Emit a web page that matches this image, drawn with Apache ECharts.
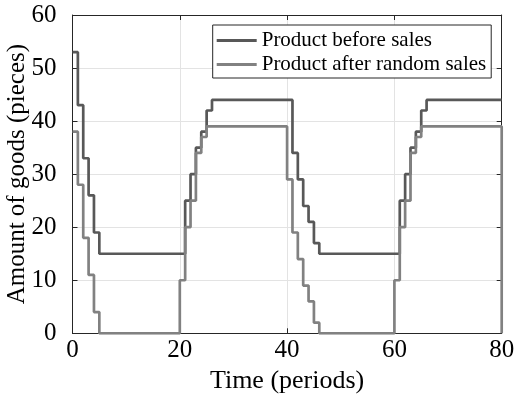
<!DOCTYPE html>
<html>
<head>
<meta charset="utf-8">
<script src="https://cdn.jsdelivr.net/npm/echarts@6/dist/echarts.min.js"></script>
<style>html,body{margin:0;padding:0;background:#fff}#c{width:520px;height:401px}</style>
</head>
<body>
<div id="c"></div>
<script>
// Change points of the stair series: value holds from time[i] until time[i+1]
const beforeTimes  = [0, 1, 2, 3, 4, 5, 21, 22, 23, 24, 25, 26, 41, 42, 43, 44, 45, 46, 61, 62, 63, 64, 65, 66, 80];
const beforeValues = [53, 43, 33, 26, 19, 15, 25, 30, 35, 38, 42, 44, 34, 29, 24, 21, 17, 15, 25, 30, 35, 38, 42, 44, 44];
const afterTimes   = [0, 1, 2, 3, 4, 5, 20, 21, 22, 23, 24, 25, 40, 41, 42, 43, 44, 45, 46, 60, 61, 62, 63, 64, 65, 80, 80];
const afterValues  = [38, 28, 18, 11, 4, 0, 10, 20, 25, 34, 37, 39, 29, 19, 14, 9, 6, 2, 0, 10, 20, 25, 34, 37, 39, 39, 0];
const xTicks = [0, 20, 40, 60, 80];
const yTicks = [0, 10, 20, 30, 40, 50, 60];
const seriesNames = ['Product before sales', 'Product after random sales'];

const FONT = 'Liberation Serif';
const axisCol = '#262626';
const pair = (t, v) => t.map((x, i) => [x, v[i]]);

const chart = echarts.init(document.getElementById('c'), null, {renderer: 'canvas'});
const baseAxis = {
  axisLine: {show: true, onZero: false, lineStyle: {color: axisCol, width: 1}},
  axisTick: {show: true, inside: true, length: 5, lineStyle: {color: axisCol}},
  splitLine: {show: false}
};
chart.setOption({
  animation: false,
  backgroundColor: '#fff',
  grid: {left: 72.5, right: 18.3, top: 15, bottom: 67.7, containLabel: false, outerBoundsMode: 'none'},
  legend: {
    orient: 'vertical',
    left: 212.7, top: 25,
    padding: [5, 5, 3, 4],
    itemGap: 3,
    itemWidth: 40, itemHeight: 3,
    itemTextGap: 3,
    borderColor: axisCol, borderWidth: 1,
    backgroundColor: '#fff',
    textStyle: {fontFamily: FONT, fontSize: 21, color: '#000'},
    data: [
      {name: seriesNames[0], icon: 'rect'},
      {name: seriesNames[1], icon: 'rect'}
    ]
  },
  xAxis: [
    Object.assign({}, baseAxis, {
      type: 'value', min: xTicks[0], max: xTicks[xTicks.length - 1], interval: 20,
      position: 'bottom',
      name: 'Time (periods)', nameLocation: 'middle', nameGap: 35, nameMoveOverlap: false,
      nameTextStyle: {fontFamily: FONT, fontSize: 26, color: '#000'},
      axisLabel: {fontFamily: FONT, fontSize: 25, color: '#000', margin: 5},
      splitLine: {show: true, lineStyle: {color: '#e3e3e3', width: 1}}
    }),
    Object.assign({}, baseAxis, {
      type: 'value', min: xTicks[0], max: xTicks[xTicks.length - 1], interval: 20,
      position: 'top', axisLabel: {show: false}
    })
  ],
  yAxis: [
    Object.assign({}, baseAxis, {
      type: 'value', min: yTicks[0], max: yTicks[yTicks.length - 1], interval: 10,
      position: 'left',
      name: 'Amount of goods (pieces)', nameLocation: 'middle', nameGap: 43, nameMoveOverlap: false,
      nameTextStyle: {fontFamily: FONT, fontSize: 25, color: '#000'},
      axisLabel: {fontFamily: FONT, fontSize: 25, color: '#000', margin: 16},
      splitLine: {show: true, lineStyle: {color: '#e3e3e3', width: 1}}
    }),
    Object.assign({}, baseAxis, {
      type: 'value', min: yTicks[0], max: yTicks[yTicks.length - 1], interval: 10,
      position: 'right', axisLabel: {show: false}
    })
  ],
  series: [
    {
      name: seriesNames[0], type: 'line', step: 'end', showSymbol: false, symbol: 'none',
      color: '#585858', itemStyle: {color: '#585858'},
      lineStyle: {color: '#585858', width: 2.7},
      data: pair(beforeTimes, beforeValues), z: 3
    },
    {
      name: seriesNames[1], type: 'line', step: 'end', showSymbol: false, symbol: 'none',
      color: '#818181', itemStyle: {color: '#818181'},
      lineStyle: {color: '#818181', width: 2.7},
      data: pair(afterTimes, afterValues), z: 4
    }
  ]
});
</script>
</body>
</html>
